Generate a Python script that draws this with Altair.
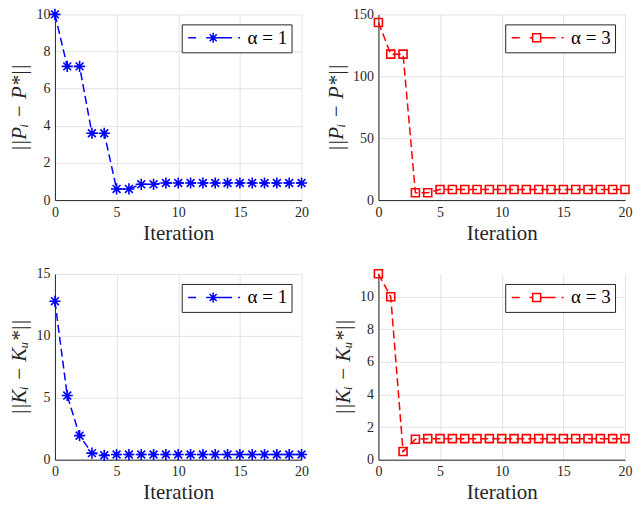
import altair as alt
import pandas as pd

iterations = list(range(21))

p_alpha1 = [10.0, 7.2, 7.2, 3.6, 3.6, 0.6, 0.6, 0.85, 0.85] + [0.92] * 12
p_alpha3 = [143.5, 117.9, 117.9, 5.9, 5.9] + [8.5] * 16
k_alpha1 = [12.8, 5.18, 1.94, 0.53, 0.35] + [0.42] * 16
k_alpha3 = [11.41, 10.0, 0.5, 1.25] + [1.29] * 17

label1 = "α = 1"
label3 = "α = 3"
blue = "#0000ff"
red = "#ff0000"

x_ticks = [0, 5, 10, 15, 20]

SERIF = "Liberation Serif, Times New Roman, serif"

ASTERISK = "M0,-1L0,1M-1,0L1,0M-0.7,-0.7L0.7,0.7M-0.7,0.7L0.7,-0.7"
LEG_ASTERISK = ("M-5,0H-3.4M-1.4,0H0M0.6,0H3.8M5,0H5.4"
                "M0,-1L0,1M-1,0L1,0M-0.7,-0.7L0.7,0.7M-0.7,0.7L0.7,-0.7")
LEG_SQUARE = ("M-5,0H-3.4M-1.4,0H-0.8M0.8,0H3.8M5,0H5.4"
              "M-0.8,-0.8H0.8V0.8H-0.8Z")


def panel(values, label, color, shape, size, leg_path, ytitle, ydomain, yticks):
    df = pd.DataFrame({"Iteration": iterations, "value": values, "series": label})
    base = alt.Chart(df)
    xenc = alt.X("Iteration:Q", scale=alt.Scale(domain=[0, 20], nice=False),
                 axis=alt.Axis(values=x_ticks, title="Iteration"))
    yenc = alt.Y("value:Q", scale=alt.Scale(domain=ydomain, nice=False, zero=True),
                 axis=alt.Axis(values=yticks, title=ytitle, titleFontStyle="italic"))
    cscale = alt.Scale(domain=[label], range=[color])
    line = base.mark_line(strokeDash=[8, 4], strokeWidth=1.5).encode(
        x=xenc, y=yenc,
        color=alt.Color("series:N", scale=cscale,
                        legend=alt.Legend(title=None, orient="top-right", offset=10,
                                          symbolType=leg_path, symbolSize=100,
                                          symbolStrokeWidth=1.5,
                                          symbolFillColor="transparent",
                                          symbolOffset=18, labelOffset=25)),
    )
    pts = base.mark_point(shape=shape, size=size, filled=False, strokeWidth=1.6,
                          opacity=1).encode(
        x=xenc, y=yenc,
        color=alt.Color("series:N", scale=cscale, legend=None),
    )
    return alt.layer(line, pts).properties(width=247, height=186)


c1 = panel(p_alpha1, label1, blue, ASTERISK, 125, LEG_ASTERISK,
           "||Pᵢ − P*||", [0, 10], [0, 2, 4, 6, 8, 10])
c2 = panel(p_alpha3, label3, red, "square", 64, LEG_SQUARE,
           "||Pᵢ − P*||", [0, 150], [0, 50, 100, 150])
c3 = panel(k_alpha1, label1, blue, ASTERISK, 125, LEG_ASTERISK,
           "||Kᵢ − Kᵤ*||", [0, 15], [0, 5, 10, 15])
c4 = panel(k_alpha3, label3, red, "square", 64, LEG_SQUARE,
           "||Kᵢ − Kᵤ*||", [0, 11.4], [0, 2, 4, 6, 8, 10])

chart = alt.concat(c1, c2, c3, c4, columns=2, spacing={"row": 74, "column": 77},
                   bounds="flush").resolve_scale(
    color="independent", x="independent", y="independent"
).resolve_legend(color="independent").properties(
    padding={"left": 1, "top": -3, "right": 0, "bottom": 0}
).configure_view(stroke=None).configure_axis(
    labelFont=SERIF, labelFontSize=14, labelColor="#262626",
    titleFont=SERIF, titleFontSize=21, titleFontWeight="normal",
    titleColor="#262626", gridColor="#e3e3e3", gridWidth=1,
    domainColor="#262626", domainWidth=1, ticks=False, labelFlush=False,
    labelPadding=5, titlePadding=6,
).configure_axisX(titleFontSize=21, titlePadding=3).configure_legend(
    strokeColor="#262626", fillColor="white", padding=4, cornerRadius=0,
    labelFont=SERIF, labelFontSize=19, labelColor="#000000",
    strokeWidth=1,
)

chart.save("out.html", embed_options={"renderer": "svg", "actions": False})
